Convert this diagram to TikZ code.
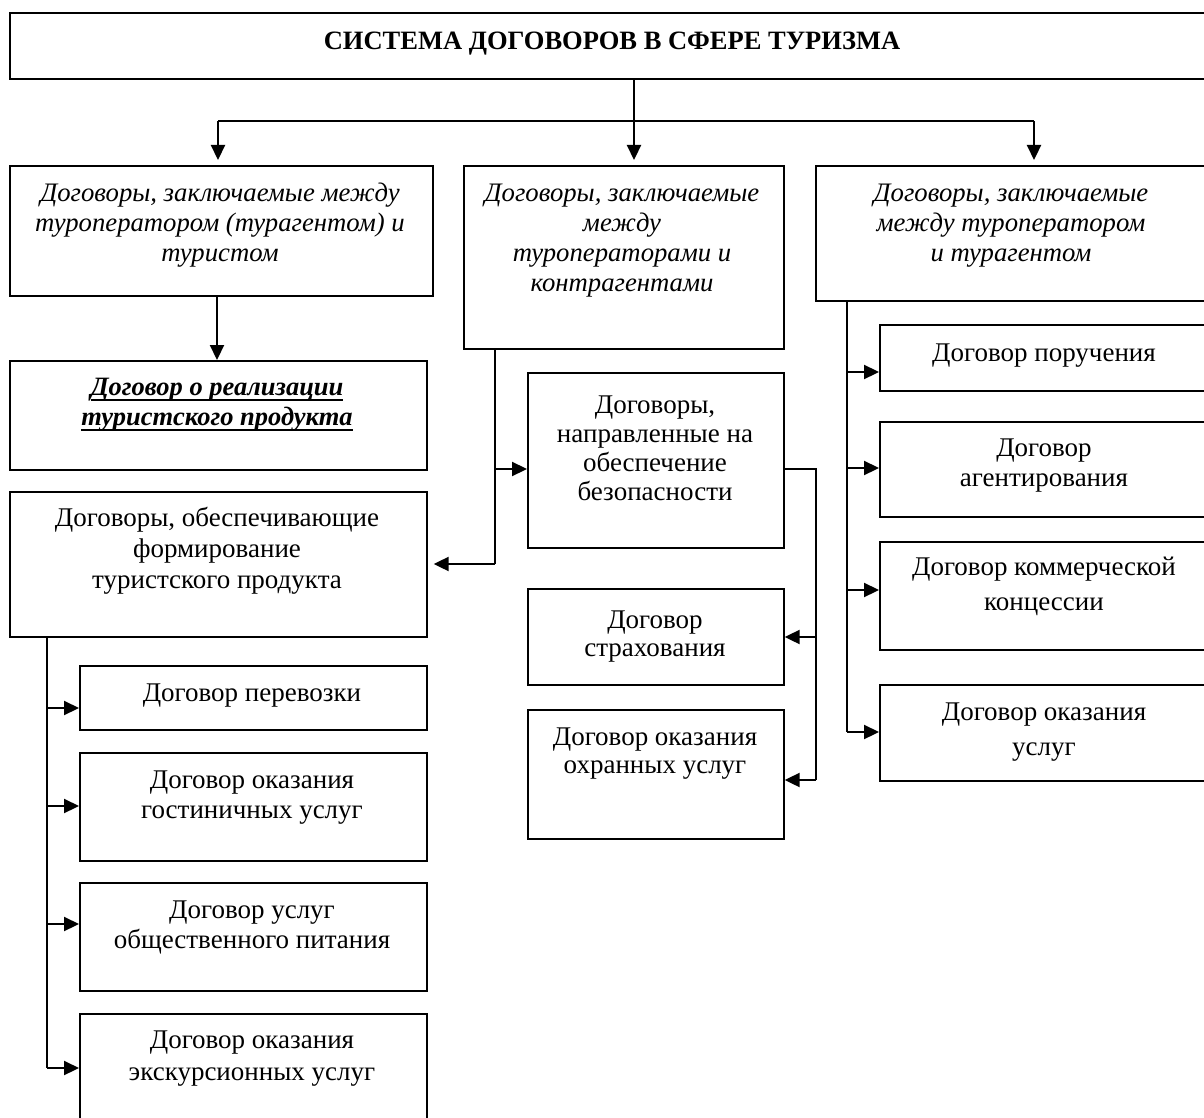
\documentclass[tikz,border=0pt]{standalone}
\usepackage{fontspec}
\setmainfont{Liberation Serif}
\usetikzlibrary{arrows.meta,calc}
\newcommand{\ulx}[1]{{\setbox0\hbox{#1}\rlap{\rule[-6pt]{\wd0}{2.6pt}}\box0}}
\newcommand{\fs}{\rule{0pt}{21pt}}
\tikzset{
  box/.style={draw, line width=1.7pt, inner sep=0pt},
  txt/.style={anchor=north, align=center, inner sep=0pt, font=\fontsize{27}{30}\selectfont},
  conn/.style={line width=2.2pt},
  arr/.style={line width=2.2pt, -{Triangle[length=15pt,width=14pt]}},
}
\newcommand{\boxat}[5]{\node[box, anchor=north west, minimum width=#4-#2, minimum height=#5-#3] (#1) at (#2,#3) {};}
\begin{document}
\begin{tikzpicture}[x=1pt,y=-1pt]
\clip (0,0) rectangle (1204,1118);
\fill[white] (0,0) rectangle (1204,1118);
% boxes
\boxat{top}{9}{12}{1215}{78}
\boxat{L1}{9}{165}{432}{295}
\boxat{L2}{9}{360}{426}{469}
\boxat{L3}{9}{491}{426}{636}
\boxat{L4}{79}{665}{426}{729}
\boxat{L5}{79}{752}{426}{860}
\boxat{L6}{79}{882}{426}{990}
\boxat{L7}{79}{1013}{426}{1140}
\boxat{M1}{463}{165}{783}{348}
\boxat{M2}{527}{372}{783}{547}
\boxat{M3}{527}{588}{783}{684}
\boxat{M4}{527}{709}{783}{838}
\boxat{R1}{815}{165}{1207}{300}
\boxat{R2}{879}{324}{1210}{390}
\boxat{R3}{879}{421}{1210}{516}
\boxat{R4}{879}{541}{1210}{649}
\boxat{R5}{879}{684}{1210}{780}
% texts
\node[txt, anchor=base, font=\fontsize{26.5}{30}\selectfont\bfseries] (topt) at (612,50) {СИСТЕМА ДОГОВОРОВ В СФЕРЕ ТУРИЗМА};
\node[txt, font=\fontsize{26.7}{30}\selectfont\itshape] (L1t) at (220,180) {\fs Договоры, заключаемые между\\туроператором (турагентом) и\\туристом};
\node[txt, font=\fontsize{26.5}{30}\selectfont\bfseries\itshape] (L2t) at (217,374) {\fs\ulx{Договор о реализации}\\\ulx{туристского продукта}};
\node[txt, font=\fontsize{27}{31}\selectfont] (L3t) at (217,505) {\fs Договоры, обеспечивающие\\формирование\\туристского продукта};
\node[txt] (L4t) at (252,680) {\fs Договор перевозки};
\node[txt] (L5t) at (252,767) {\fs Договор оказания\\гостиничных услуг};
\node[txt] (L6t) at (252,897) {\fs Договор услуг\\общественного питания};
\node[txt, font=\fontsize{27}{32}\selectfont] (L7t) at (252,1027) {\fs Договор оказания\\экскурсионных услуг};
\node[txt, font=\fontsize{26.7}{30}\selectfont\itshape] (M1t) at (622,180) {\fs Договоры, заключаемые\\между\\туроператорами и\\контрагентами};
\node[txt, font=\fontsize{27}{29}\selectfont] (M2t) at (655,392) {\fs Договоры,\\направленные на\\обеспечение\\безопасности};
\node[txt, font=\fontsize{27}{28}\selectfont] (M3t) at (655,607) {\fs Договор\\страхования};
\node[txt, font=\fontsize{27}{28}\selectfont] (M4t) at (655,724) {\fs Договор оказания\\охранных услуг};
\node[txt, font=\fontsize{26.7}{30}\selectfont\itshape] (R1t) at (1011,180) {\fs Договоры, заключаемые\\между туроператором\\и турагентом};
\node[txt] (R2t) at (1044,340) {\fs Договор поручения};
\node[txt] (R3t) at (1044,435) {\fs Договор\\агентирования};
\node[txt, font=\fontsize{27}{35}\selectfont] (R4t) at (1044,554) {\fs Договор коммерческой\\концессии};
\node[txt, font=\fontsize{27}{35}\selectfont] (R5t) at (1044,699) {\fs Договор оказания\\услуг};
% top distribution
\coordinate (jT) at (634,121);
\coordinate (jL) at (218,121);
\coordinate (jR) at (1034,121);
\draw[conn] (top.south -| jT) -- (jT);
\draw[conn] (jL) -- (jR);
\draw[arr, shorten >=5pt] (jL) -- (jL |- L1.north);
\draw[arr, shorten >=5pt] (jT) -- (jT |- M1.north);
\draw[arr, shorten >=5pt] (jR) -- (jR |- R1.north);
% L1 -> L2
\coordinate (a12) at (217,0);
\draw[arr] (L1.south -| a12) -- (L2.north -| a12);
% middle column
\coordinate (mx) at (495,564);
\coordinate (mb) at (495,469);
\draw[conn] (M1.south -| mx) -- (mx);
\draw[arr, shorten >=6pt] (mx) -- (mx -| L3.east);
\draw[arr] (mb) -- (mb -| M2.west);
\coordinate (sx) at (816,469);
\coordinate (s1) at (816,637);
\coordinate (s2) at (816,780);
\draw[conn] (M2.east |- sx) -- (sx) -- (s2);
\draw[arr] (s1) -- (s1 -| M3.east);
\draw[arr] (s2) -- (s2 -| M4.east);
% right column
\coordinate (r0) at (847,0);
\coordinate (r1) at (847,372);
\coordinate (r2) at (847,468);
\coordinate (r3) at (847,590);
\coordinate (r4) at (847,732);
\draw[conn] (R1.south -| r0) -- (r4);
\foreach \c/\b in {r1/R2,r2/R3,r3/R4,r4/R5} \draw[arr] (\c) -- (\c -| \b.west);
% left column
\coordinate (l0) at (47,0);
\coordinate (l1) at (47,708);
\coordinate (l2) at (47,806);
\coordinate (l3) at (47,924);
\coordinate (l4) at (47,1068);
\draw[conn] (L3.south -| l0) -- (l4);
\foreach \c/\b in {l1/L4,l2/L5,l3/L6,l4/L7} \draw[arr] (\c) -- (\c -| \b.west);
\end{tikzpicture}
\end{document}
